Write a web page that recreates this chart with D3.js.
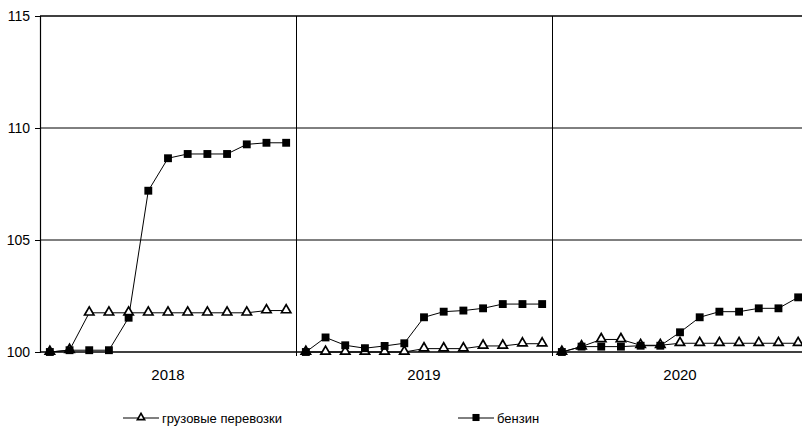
<!DOCTYPE html>
<html><head><meta charset="utf-8">
<script src="https://cdn.jsdelivr.net/npm/d3@7/dist/d3.min.js"></script>
<style>html,body{margin:0;padding:0;background:#fff;}svg{display:block;font-family:"Liberation Sans",Arial,sans-serif;}</style>
</head><body>
<svg id="chart" width="802" height="430"></svg>
<script>
const years = ["2018", "2019", "2020"];
const pointsPerYear = 13;
const yTicks = [100, 105, 110, 115];
const seriesNames = ["грузовые перевозки", "бензин"];
const freight = [
  100, 100.08, 101.75, 101.75, 101.75, 101.75, 101.75, 101.75, 101.75, 101.75, 101.75, 101.85, 101.85,
  100, 100, 100, 100, 100, 100, 100.15, 100.15, 100.15, 100.27, 100.27, 100.37, 100.37,
  100, 100.24, 100.56, 100.56, 100.3, 100.3, 100.39, 100.39, 100.39, 100.39, 100.39, 100.39, 100.39
];
const petrol = [
  100, 100.08, 100.08, 100.08, 101.53, 107.2, 108.65, 108.84, 108.84, 108.84, 109.27, 109.34, 109.34,
  100, 100.65, 100.3, 100.17, 100.27, 100.39, 101.55, 101.8, 101.85, 101.95, 102.14, 102.14, 102.14,
  100, 100.24, 100.24, 100.24, 100.28, 100.28, 100.88, 101.55, 101.8, 101.8, 101.95, 101.95, 102.44
];
const categories = [];
years.forEach(yr => { for (let i = 0; i < pointsPerYear; i++) categories.push(yr + "-" + i); });

(function () {
const svg = d3.select("#chart");
const pL = 40, pR = 808, pT = 16, pB = 352;

const x = d3.scaleBand().domain(categories).range([pL, pR]).padding(0);
const xc = d => x(d) + x.bandwidth() / 2;
const y = d3.scaleLinear().domain([100, 115]).range([pB, pT]);
const xYear = d3.scaleBand().domain(years).range([pL, pR]);

svg.append("g").selectAll("line").data(yTicks).join("line")
  .attr("x1", pL).attr("x2", 802)
  .attr("y1", d => y(d)).attr("y2", d => y(d))
  .attr("stroke", "#000").attr("stroke-width", d => (d === 100 || d === 115) ? 1.6 : 1);

svg.append("g").selectAll("line").data(years.slice(1)).join("line")
  .attr("x1", d => xYear(d) + 0.5).attr("x2", d => xYear(d) + 0.5)
  .attr("y1", pT).attr("y2", pB + 4)
  .attr("stroke", "#000").attr("stroke-width", 1);

const yAxis = d3.axisLeft(y).tickValues(yTicks).tickSize(5).tickPadding(5);
const gy = svg.append("g").attr("transform", `translate(${pL},0)`).call(yAxis);
gy.select(".domain").attr("stroke", "#000").attr("stroke-width", 1.2);
gy.selectAll(".tick line").attr("stroke", "#000");
gy.selectAll("text").attr("font-size", 14).attr("fill", "#000").attr("font-family", "Liberation Sans, Arial, sans-serif");

const xAxis = d3.axisBottom(xYear).tickSize(0).tickPadding(17);
const gx = svg.append("g").attr("transform", `translate(0,${pB})`).call(xAxis);
gx.select(".domain").remove();
gx.selectAll("text").attr("font-size", 15).attr("fill", "#000").attr("font-family", "Liberation Sans, Arial, sans-serif");

function drawYearLines(data) {
  years.forEach((yr, k) => {
    const seg = data.slice(k * pointsPerYear, (k + 1) * pointsPerYear);
    const cats = categories.slice(k * pointsPerYear, (k + 1) * pointsPerYear);
    svg.append("path").datum(seg)
      .attr("d", d3.line().x((d, i) => xc(cats[i])).y(d => y(d)))
      .attr("fill", "none").attr("stroke", "#000").attr("stroke-width", 1);
  });
}
drawYearLines(freight);
drawYearLines(petrol);

const tri = d3.symbol().type(d3.symbolTriangle).size(38);
const triSmall = d3.symbol().type(d3.symbolTriangle).size(22);
const sq = d3.symbol().type(d3.symbolSquare).size(62);
const sqSmall = d3.symbol().type(d3.symbolSquare).size(50);

svg.append("g").selectAll("path").data(freight).join("path")
  .attr("d", tri)
  .attr("transform", (d, i) => `translate(${xc(categories[i])},${y(d) - 0.5})`)
  .attr("fill", "#fff").attr("stroke", "#000").attr("stroke-width", 1.7);

svg.append("g").selectAll("path").data(petrol).join("path")
  .attr("d", sq)
  .attr("transform", (d, i) => `translate(${xc(categories[i])},${y(d)})`)
  .attr("fill", "#000");

const legendX = [123, 458];
const lg = svg.append("g").selectAll("g").data(seriesNames).join("g")
  .attr("transform", (d, i) => `translate(${legendX[i]},418)`);
lg.append("line").attr("x1", 0).attr("x2", 36).attr("y1", 0).attr("y2", 0).attr("stroke", "#000").attr("stroke-width", 1);
lg.append("path").attr("d", (d, i) => i === 0 ? triSmall() : sqSmall())
  .attr("transform", "translate(18,-0.5)")
  .attr("fill", (d, i) => i === 0 ? "#fff" : "#000")
  .attr("stroke", "#000").attr("stroke-width", (d, i) => i === 0 ? 1.7 : 0);
lg.append("text").attr("x", 39).attr("y", 5).attr("font-size", 13).attr("fill", "#000")
  .text(d => d);
})();
</script>
</body></html>
